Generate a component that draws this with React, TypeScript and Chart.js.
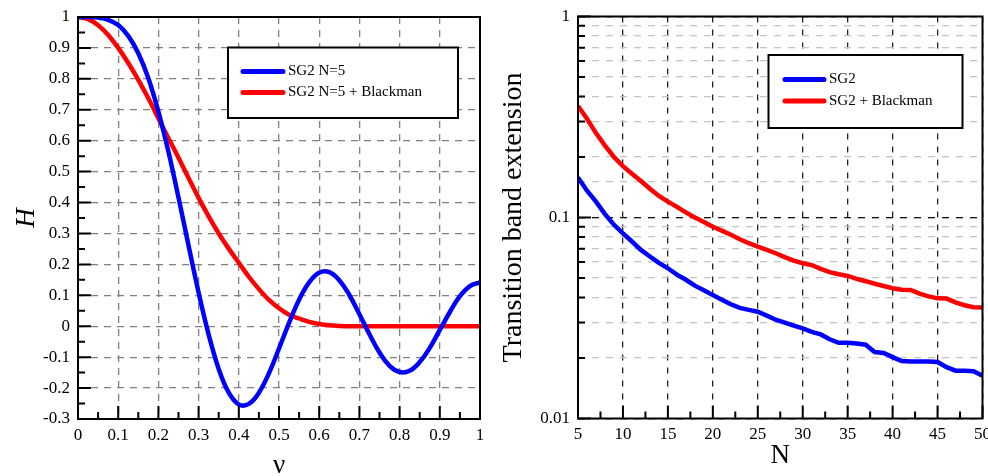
import React, { useEffect, useRef } from 'react';
import { Chart, registerables } from 'chart.js';

Chart.register(...registerables);

const FONT = "'Liberation Serif', 'Times New Roman', Times, serif";

// ---------- Left chart data ----------
const leftSeries = ['SG2 N=5', 'SG2 N=5 + Blackman'];
const nu = [0, 0.025, 0.05, 0.075, 0.1, 0.125, 0.15, 0.175, 0.2, 0.225, 0.25, 0.275, 0.3, 0.325, 0.35, 0.375, 0.4, 0.425, 0.45, 0.475, 0.5, 0.525, 0.55, 0.575, 0.6, 0.625, 0.65, 0.675, 0.7, 0.725, 0.75, 0.775, 0.8, 0.825, 0.85, 0.875, 0.9, 0.925, 0.95, 0.975, 1];
const hBlue = [1, 1, 0.998, 0.991, 0.974, 0.939, 0.883, 0.802, 0.694, 0.564, 0.416, 0.261, 0.109, -0.027, -0.138, -0.215, -0.253, -0.251, -0.215, -0.152, -0.072, 0.011, 0.086, 0.142, 0.173, 0.175, 0.149, 0.101, 0.039, -0.026, -0.085, -0.128, -0.148, -0.144, -0.116, -0.07, -0.012, 0.046, 0.097, 0.13, 0.142];
const hRed = [1, 0.993, 0.973, 0.942, 0.9, 0.851, 0.797, 0.737, 0.672, 0.608, 0.545, 0.479, 0.415, 0.355, 0.3, 0.251, 0.205, 0.16, 0.12, 0.085, 0.058, 0.037, 0.025, 0.014, 0.007, 0.003, 0.001, 0, 0, 0, 0, 0, 0, 0, 0, 0, 0, 0, 0, 0, 0];
const leftXTickLabels = ['0', '0.1', '0.2', '0.3', '0.4', '0.5', '0.6', '0.7', '0.8', '0.9', '1'];
const leftYTickLabels = ['-0.3', '-0.2', '-0.1', '0', '0.1', '0.2', '0.3', '0.4', '0.5', '0.6', '0.7', '0.8', '0.9', '1'];

// ---------- Right chart data ----------
const rightSeries = ['SG2', 'SG2 + Blackman'];
const nValues = [5, 6, 7, 8, 9, 10, 11, 12, 13, 14, 15, 16, 17, 18, 19, 20, 21, 22, 23, 24, 25, 26, 27, 28, 29, 30, 31, 32, 33, 34, 35, 36, 37, 38, 39, 40, 41, 42, 43, 44, 45, 46, 47, 48, 49, 50];
const tbBlue = [0.158, 0.136, 0.12, 0.104, 0.092, 0.0834, 0.076, 0.069, 0.064, 0.0595, 0.0559, 0.052, 0.049, 0.0458, 0.0435, 0.0411, 0.039, 0.037, 0.0355, 0.0347, 0.034, 0.0325, 0.031, 0.03, 0.029, 0.0281, 0.027, 0.0262, 0.0248, 0.0238, 0.0238, 0.0236, 0.0233, 0.0214, 0.0212, 0.0202, 0.0193, 0.0192, 0.0192, 0.0192, 0.0191, 0.018, 0.0173, 0.0173, 0.0172, 0.0163];
const tbRed = [0.359, 0.31, 0.263, 0.228, 0.2, 0.18, 0.165, 0.152, 0.139, 0.128, 0.12, 0.113, 0.106, 0.1, 0.095, 0.09, 0.086, 0.082, 0.078, 0.0745, 0.0716, 0.069, 0.0664, 0.0635, 0.061, 0.0592, 0.058, 0.0555, 0.0535, 0.0522, 0.0512, 0.0495, 0.0482, 0.0468, 0.0456, 0.0445, 0.0437, 0.0436, 0.0418, 0.0405, 0.0396, 0.0395, 0.0378, 0.0366, 0.0358, 0.0357];
const rightXTickLabels = ['5', '10', '15', '20', '25', '30', '35', '40', '45', '50'];
const rightYTickLabels = ['0.01', '0.1', '1'];

const lookup = (labels: string[]) => (v: number) => {
  const f = labels.find((t) => Math.abs(Number(t) - v) < 1e-9 * Math.max(1, Math.abs(v)) + 1e-12);
  return f === undefined ? '' : f;
};

type Legend = { x: number; y: number; w: number; h: number; lx1: number; lx2: number; tx: number; rows: number[] };

function framePlugin(o: {
  xTicks: { v: number; major: boolean }[];
  yTicks: { v: number; major: boolean }[];
  legend: Legend;
}) {
  return {
    id: 'frame',
    afterDraw(chart: any) {
      const { ctx, chartArea } = chart;
      const { left, right, top, bottom } = chartArea;
      const xs = chart.scales.x;
      const ys = chart.scales.y;
      ctx.save();
      ctx.strokeStyle = '#000';
      ctx.lineWidth = 2;
      ctx.setLineDash([]);
      ctx.beginPath();
      for (const t of o.yTicks) {
        const py = ys.getPixelForValue(t.v);
        const len = t.major ? 13 : 7;
        ctx.moveTo(left, py);
        ctx.lineTo(left + len, py);
      }
      for (const t of o.xTicks) {
        const px = xs.getPixelForValue(t.v);
        const len = t.major ? 13 : 7;
        ctx.moveTo(px, bottom);
        ctx.lineTo(px, bottom - len);
      }
      ctx.stroke();
      ctx.strokeRect(left, top, right - left, bottom - top);

      // legend
      const L = o.legend;
      ctx.fillStyle = '#fff';
      ctx.fillRect(L.x, L.y, L.w, L.h);
      ctx.lineWidth = 2;
      ctx.strokeStyle = '#000';
      ctx.strokeRect(L.x, L.y, L.w, L.h);
      chart.data.datasets.forEach((ds: any, i: number) => {
        const yy = L.rows[i];
        ctx.beginPath();
        ctx.lineCap = 'round';
        ctx.lineWidth = 5;
        ctx.strokeStyle = ds.borderColor;
        ctx.moveTo(L.lx1, yy);
        ctx.lineTo(L.lx2, yy);
        ctx.stroke();
        ctx.fillStyle = '#000';
        ctx.font = `15px ${FONT}`;
        ctx.textBaseline = 'middle';
        ctx.textAlign = 'left';
        ctx.fillText(ds.label, L.tx, yy);
      });
      ctx.restore();
    },
  };
}

function leftConfig(): any {
  const xTicks: { v: number; major: boolean }[] = [];
  for (let i = 0; i <= 20; i++) xTicks.push({ v: i * 0.05, major: i % 2 === 0 });
  const yTicks: { v: number; major: boolean }[] = [];
  for (let i = -6; i <= 20; i++) yTicks.push({ v: i * 0.05, major: i % 2 === 0 });
  const tickFont = { family: FONT, size: 17 };
  return {
    type: 'line',
    data: {
      datasets: [
        {
          label: leftSeries[0],
          data: nu.map((x, i) => ({ x, y: hBlue[i] })),
          borderColor: '#0000ff',
          borderWidth: 4.5,
          pointRadius: 0,
          tension: 0.4,
          fill: false,
        },
        {
          label: leftSeries[1],
          data: nu.map((x, i) => ({ x, y: hRed[i] })),
          borderColor: '#ff0000',
          borderWidth: 4.5,
          pointRadius: 0,
          cubicInterpolationMode: 'monotone',
          fill: false,
        },
      ],
    },
    options: {
      responsive: false,
      animation: false,
      layout: { padding: { left: 0, top: 17, right: 14, bottom: 0 } },
      plugins: { legend: { display: false }, tooltip: { enabled: false } },
      scales: {
        x: {
          type: 'linear',
          min: 0,
          max: 1,
          ticks: { stepSize: 0.1, padding: 6, font: tickFont, color: '#000', autoSkip: false, maxRotation: 0, callback: lookup(leftXTickLabels) },
          grid: { color: '#808080', lineWidth: 1.3, drawTicks: false },
          border: { display: false, dash: [7, 6] },
          title: { display: true, text: 'ν', color: '#000', font: { family: FONT, size: 27, lineHeight: 0.75 }, padding: { top: 0, bottom: 0 } },
          afterFit: (s: any) => { s.height = 57; s.paddingLeft = 0; s.paddingRight = 0; },
        },
        y: {
          type: 'linear',
          min: -0.3,
          max: 1,
          ticks: { stepSize: 0.1, padding: 8, font: tickFont, color: '#000', autoSkip: false, callback: lookup(leftYTickLabels) },
          grid: { color: '#808080', lineWidth: 1.3, drawTicks: false },
          border: { display: false, dash: [7, 6] },
          title: { display: true, text: 'H', color: '#000', font: { family: FONT, size: 27, style: 'italic', lineHeight: 0.75 }, padding: { top: 17, bottom: 0 } },
          afterFit: (s: any) => { s.width = 78; s.paddingTop = 0; s.paddingBottom = 0; },
        },
      },
    },
    plugins: [
      framePlugin({
        xTicks,
        yTicks,
        legend: { x: 228, y: 47.5, w: 230, h: 70.5, lx1: 243, lx2: 283, tx: 288, rows: [71.5, 92.5] },
      }),
    ],
  };
}

function rightConfig(): any {
  const xTicks: { v: number; major: boolean }[] = [];
  for (let i = 0; i <= 18; i++) xTicks.push({ v: 5 + i * 2.5, major: i % 2 === 0 });
  const yTicks: { v: number; major: boolean }[] = [];
  for (const e of [-2, -1]) for (let k = 1; k <= 9; k++) yTicks.push({ v: k * Math.pow(10, e), major: k === 1 });
  yTicks.push({ v: 1, major: true });
  const tickFont = { family: FONT, size: 17 };
  const isDecade = (v: number) => Math.abs(Math.log10(v) - Math.round(Math.log10(v))) < 1e-6;
  return {
    type: 'line',
    data: {
      datasets: [
        {
          label: rightSeries[0],
          data: nValues.map((x, i) => ({ x, y: tbBlue[i] })),
          borderColor: '#0000ff',
          borderWidth: 4.5,
          pointRadius: 0,
          tension: 0,
          fill: false,
        },
        {
          label: rightSeries[1],
          data: nValues.map((x, i) => ({ x, y: tbRed[i] })),
          borderColor: '#ff0000',
          borderWidth: 4.5,
          pointRadius: 0,
          tension: 0,
          fill: false,
        },
      ],
    },
    options: {
      responsive: false,
      animation: false,
      layout: { padding: { left: 0, top: 16.5, right: 5.5, bottom: 0 } },
      plugins: { legend: { display: false }, tooltip: { enabled: false } },
      scales: {
        x: {
          type: 'linear',
          min: 5,
          max: 50,
          ticks: { stepSize: 5, padding: 6, font: tickFont, color: '#000', autoSkip: false, maxRotation: 0, callback: lookup(rightXTickLabels) },
          grid: { color: '#222', lineWidth: 1.3, drawTicks: false },
          border: { display: false, dash: [6, 7] },
          title: { display: true, text: 'N', color: '#000', font: { family: FONT, size: 27, lineHeight: 0.75 }, padding: { top: 0, bottom: 10 } },
          afterFit: (s: any) => { s.height = 57.5; s.paddingLeft = 0; s.paddingRight = 0; },
        },
        y: {
          type: 'logarithmic',
          min: 0.01,
          max: 1,
          ticks: { padding: 8, font: tickFont, color: '#000', autoSkip: false, callback: lookup(rightYTickLabels) },
          grid: {
            color: (c: any) => (c.tick && isDecade(c.tick.value) ? '#111' : '#c4c4c4'),
            lineWidth: 1.3,
            drawTicks: false,
          },
          border: { display: false, dash: [7, 7] },
          title: { display: true, text: 'Transition band extension', color: '#000', font: { family: FONT, size: 28, lineHeight: 0.75 }, padding: { top: 9.5, bottom: 0 } },
          afterFit: (s: any) => { s.width = 84; s.paddingTop = 0; s.paddingBottom = 0; },
        },
      },
    },
    plugins: [
      framePlugin({
        xTicks,
        yTicks,
        legend: { x: 274.5, y: 55, w: 194, h: 73, lx1: 291, lx2: 330, tx: 335, rows: [79.5, 101] },
      }),
    ],
  };
}

export default function App() {
  const leftRef = useRef<HTMLCanvasElement>(null);
  const rightRef = useRef<HTMLCanvasElement>(null);
  useEffect(() => {
    const c1 = new Chart(leftRef.current as HTMLCanvasElement, leftConfig());
    const c2 = new Chart(rightRef.current as HTMLCanvasElement, rightConfig());
    return () => {
      c1.destroy();
      c2.destroy();
    };
  }, []);
  return (
    <div style={{ position: 'absolute', left: 0, top: 0, width: 988, height: 476, background: '#fff', overflow: 'hidden' }}>
      <canvas ref={leftRef} width={494} height={476} style={{ position: 'absolute', left: 0, top: 0 }} />
      <canvas ref={rightRef} width={494} height={476} style={{ position: 'absolute', left: 494, top: 0 }} />
    </div>
  );
}
